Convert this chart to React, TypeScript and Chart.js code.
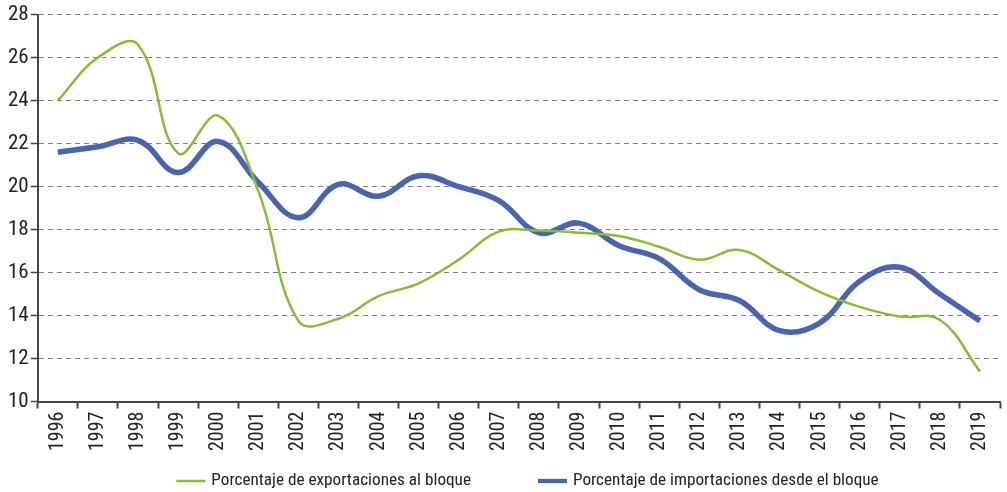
import React, { useEffect, useRef } from "react";
import { Chart, registerables } from "chart.js";

Chart.register(...registerables);

const years = ["1996","1997","1998","1999","2000","2001","2002","2003","2004","2005","2006","2007","2008","2009","2010","2011","2012","2013","2014","2015","2016","2017","2018","2019"];
const exportsShare = [24.0, 26.0, 26.6, 21.55, 23.3, 19.8, 13.75, 13.85, 14.9, 15.5, 16.6, 17.9, 17.95, 17.85, 17.7, 17.2, 16.6, 17.05, 16.1, 15.1, 14.4, 13.95, 13.8, 11.4];
const importsShare = [21.6, 21.85, 22.15, 20.65, 22.1, 20.2, 18.55, 20.1, 19.55, 20.5, 20.0, 19.35, 17.85, 18.3, 17.25, 16.65, 15.2, 14.7, 13.3, 13.65, 15.6, 16.25, 15.0, 13.75];
const seriesNames = ["Porcentaje de exportaciones al bloque", "Porcentaje de importaciones desde el bloque"];
const seriesColors = ["#8db83a", "#4a64ae"];
const seriesWidths = [2.5, 5.5];

const FONT = "'Roboto Condensed', 'Liberation Sans', sans-serif";

const customLegend = {
  id: "customLegend",
  afterDraw(chart: any) {
    const ctx = chart.ctx as CanvasRenderingContext2D;
    const datasets = chart.data.datasets;
    const fontSize = 17.2;
    const lineLen = 29;
    const textGap = 6;
    const itemGap = 67;
    ctx.save();
    ctx.font = `${fontSize}px ${FONT}`;
    const widths = datasets.map((d: any) => lineLen + textGap + ctx.measureText(d.label).width);
    const total = widths.reduce((a: number, b: number) => a + b, 0) + itemGap * (datasets.length - 1);
    let x = (chart.width - total) / 2 + 24;
    const y = chart.height - 11;
    datasets.forEach((d: any, i: number) => {
      ctx.strokeStyle = d.borderColor;
      ctx.lineWidth = d.borderWidth * 0.6 + 1;
      ctx.beginPath();
      ctx.moveTo(x, y);
      ctx.lineTo(x + lineLen, y);
      ctx.stroke();
      ctx.fillStyle = "#222";
      ctx.textBaseline = "middle";
      ctx.textAlign = "left";
      ctx.fillText(d.label, x + lineLen + textGap, y);
      x += widths[i] + itemGap;
    });
    ctx.restore();
  },
};

export default function App() {
  const ref = useRef<HTMLCanvasElement | null>(null);
  useEffect(() => {
    if (!ref.current) return;
    const chart = new Chart(ref.current, {
      type: "line",
      data: {
        labels: years,
        datasets: [exportsShare, importsShare].map((data, i) => ({
          label: seriesNames[i],
          data,
          borderColor: seriesColors[i],
          backgroundColor: seriesColors[i],
          borderWidth: seriesWidths[i],
          pointRadius: 0,
          tension: 0.4,
        })),
      },
      options: {
        animation: false,
        responsive: false,
        maintainAspectRatio: false,
        layout: { padding: { left: 6, right: 2, top: 5, bottom: 38 } },
        plugins: {
          tooltip: { enabled: false },
          legend: { display: false },
        },
        scales: {
          x: {
            offset: true,
            grid: {
              offset: true,
              drawOnChartArea: false,
              drawTicks: true,
              tickLength: 7,
              tickColor: "#444",
              tickWidth: 2,
            },
            border: { display: true, color: "#444", width: 2 },
            ticks: {
              color: "#222",
              font: { family: FONT, size: 20 },
              maxRotation: 90,
              minRotation: 90,
              autoSkip: false,
              padding: 3,
            },
          },
          y: {
            min: 10,
            max: 28,
            grid: {
              color: "#808080",
              lineWidth: 1,
              tickLength: 7,
              tickColor: "#444",
              tickWidth: 1.5,
            },
            border: { display: true, color: "#444", width: 2, dash: [5, 4] },
            ticks: {
              stepSize: 2,
              color: "#222",
              font: { family: FONT, size: 21 },
              padding: 2,
            },
          },
        },
      },
      plugins: [customLegend],
    });
    return () => chart.destroy();
  }, []);
  return (
    <div style={{ position: "absolute", left: 0, top: 0, width: 1007, height: 492, background: "#fff" }}>
      <canvas ref={ref} width={1007} height={492} style={{ width: 1007, height: 492 }} />
    </div>
  );
}
